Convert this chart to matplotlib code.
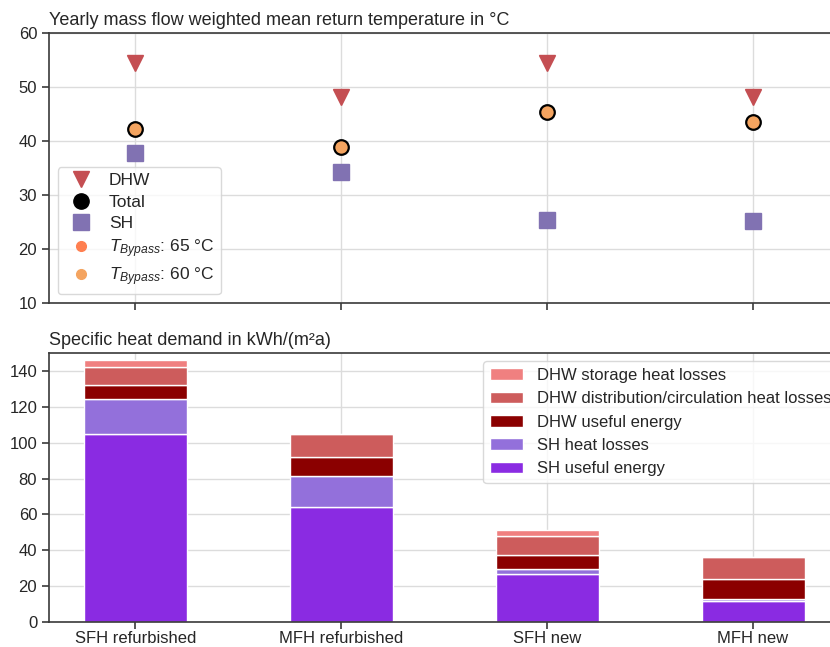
import numpy as np
import matplotlib
matplotlib.use("Agg")
import matplotlib.pyplot as plt
from matplotlib.lines import Line2D

plt.rcParams['font.family'] = ['Liberation Sans', 'DejaVu Sans']
plt.rcParams['font.size'] = 12
plt.rcParams['mathtext.fontset'] = 'custom'
plt.rcParams['mathtext.it'] = 'Liberation Sans:italic'
plt.rcParams['mathtext.rm'] = 'Liberation Sans'

categories = ["SFH refurbished", "MFH refurbished", "SFH new", "MFH new"]

# return temperatures in degC
t_dhw = [54.4, 48.2, 54.4, 48.2]
t_total = [42.2, 38.9, 45.4, 43.5]
t_sh = [37.7, 34.3, 25.4, 25.1]

# specific heat demand in kWh/(m2a)
sh_useful = [104.8, 64.4, 26.9, 11.7]
sh_losses = [19.5, 17.1, 2.8, 1.3]
dhw_useful = [7.7, 10.6, 7.7, 10.7]
dhw_distribution = [10.4, 12.7, 10.8, 12.8]
dhw_storage = [3.9, 0.0, 3.3, 0.0]

bar_series = [
    ("SH useful energy", sh_useful, "#8a2be2"),
    ("SH heat losses", sh_losses, "#9370db"),
    ("DHW useful energy", dhw_useful, "#8b0000"),
    ("DHW distribution/circulation heat losses", dhw_distribution, "#cd5c5c"),
    ("DHW storage heat losses", dhw_storage, "#f08080"),
]

text_c = "#262626"
grid_c = "#dcdcdc"
spine_c = "#3a3a3a"

fig = plt.figure(figsize=(8.3, 6.47), dpi=100)
W, H = 830.0, 647.0
left = 49 / W
width = (839.5 - 49) / W
ax1 = fig.add_axes([left, 1 - 303 / H, width, 270 / H])
ax2 = fig.add_axes([left, 1 - 622 / H, width, 269 / H])

x = np.arange(len(categories))

for ax in (ax1, ax2):
    ax.set_axisbelow(True)
    ax.grid(True, color=grid_c, linewidth=1.0)
    for s in ax.spines.values():
        s.set_color(spine_c)
        s.set_linewidth(1.2)
    ax.tick_params(colors=spine_c, labelcolor=text_c, labelsize=12,
                   length=5, width=1.2, direction='out')
    ax.tick_params(axis='x', pad=1.5)
    ax.set_xlim(-0.42, 3.42)
    ax.set_xticks(x)

# top: return temperatures
ax1.plot(x, t_dhw, linestyle='none', marker='v', markersize=11,
         color="#c44e52", label="DHW")
ax1.plot(x, t_total, linestyle='none', marker='o', markersize=10.5,
         markerfacecolor="#f4a460", markeredgecolor='black',
         markeredgewidth=1.6, label="_total")
ax1.plot(x, t_sh, linestyle='none', marker='s', markersize=11,
         color="#8172b2", label="SH")
ax1.set_ylim(10, 60)
ax1.set_yticks([10, 20, 30, 40, 50, 60])
ax1.set_xticklabels([])
ax1.set_title("Yearly mass flow weighted mean return temperature in °C",
              loc='left', color=text_c, fontsize=13, pad=6)

handles = [
    Line2D([], [], linestyle='none', marker='v', markersize=11, color="#c44e52"),
    Line2D([], [], linestyle='none', marker='o', markersize=11, color='black'),
    Line2D([], [], linestyle='none', marker='s', markersize=11, color="#8172b2"),
    Line2D([], [], linestyle='none', marker='o', markersize=7, color="#ff7f50"),
    Line2D([], [], linestyle='none', marker='o', markersize=7, color="#f4a460"),
]
labels = ["DHW", "Total", "SH",
          r"$T_{Bypass}$: 65 °C", r"$T_{Bypass}$: 60 °C"]
leg1 = ax1.legend(handles, labels, loc='lower left', fontsize=12.5,
                  frameon=True, framealpha=0.8, edgecolor='#d0d0d0',
                  borderpad=0.35, labelspacing=0.35, handletextpad=0.6)
for t in leg1.get_texts():
    t.set_color(text_c)

# bottom: stacked specific heat demand
bottom = np.zeros(len(categories))
for name, vals, col in bar_series:
    ax2.bar(x, vals, width=0.5, bottom=bottom, color=col,
            edgecolor='white', linewidth=1.0, label=name)
    bottom = bottom + np.array(vals)
ax2.set_ylim(0, 150)
ax2.set_yticks([0, 20, 40, 60, 80, 100, 120, 140])
ax2.set_xticklabels(categories)
ax2.set_title("Specific heat demand in kWh/(m²a)", loc='left',
              color=text_c, fontsize=13, pad=6)

hs, ls = ax2.get_legend_handles_labels()
leg2 = ax2.legend(hs[::-1], ls[::-1], loc='upper left', fontsize=12,
                  frameon=True, framealpha=0.8, edgecolor='#d0d0d0',
                  borderpad=0.4, labelspacing=0.5, handletextpad=0.8,
                  bbox_to_anchor=((475 - 49) / (839.5 - 49), 1.0))
for t in leg2.get_texts():
    t.set_color(text_c)

fig.savefig("out.png", dpi=100)
